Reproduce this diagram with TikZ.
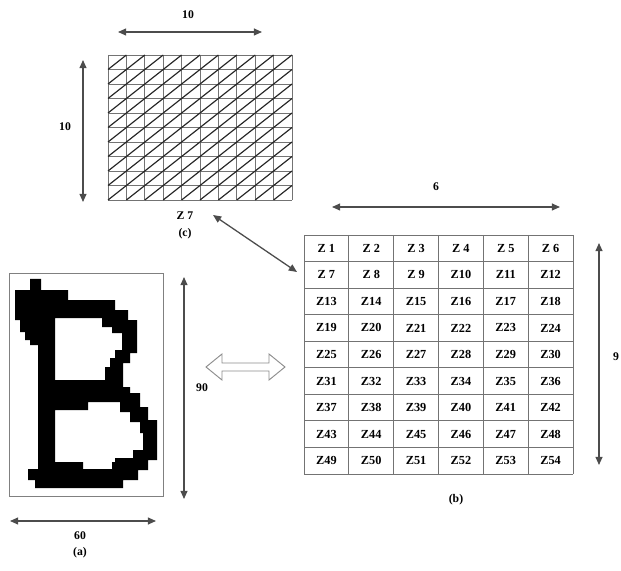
\documentclass[tikz,border=0pt]{standalone}
\usepackage{fontspec}
\setmainfont{Liberation Serif}
\usetikzlibrary{arrows.meta}

\begin{document}
\begin{tikzpicture}[x=0.03cm, y=-0.03cm,
    dim/.style={draw=black!70, line width=1.1pt,
      {Triangle[length=7pt,width=6pt]}-{Triangle[length=7pt,width=6pt]}},
    lbl/.style={font=\fontsize{10}{12}\selectfont\bfseries, inner sep=1pt},
    cell/.style={font=\fontsize{10.5}{12}\selectfont\bfseries, inner sep=0pt},
    tabline/.style={draw=black!55, line width=0.8pt}]
  \useasboundingbox (0,0) rectangle (621,571);

  % (c) zone grid
  \foreach \i in {0,...,10} {
    \draw[black!55, line width=0.6pt] ({108+18.4*\i},55) -- ({108+18.4*\i},200);
    \draw[black!55, line width=0.6pt] (108,{55+14.5*\i}) -- (292,{55+14.5*\i});
  }
  \foreach \i in {0,...,9}
    \foreach \j in {0,...,9}
      \draw[black!85, line width=1pt] ({108+18.4*\i},{69.5+14.5*\j}) -- ({126.4+18.4*\i},{55+14.5*\j});
  \coordinate (cl) at (118,32);
  \coordinate (cr) at (262,32);
  \coordinate (ct) at (83,60);
  \coordinate (cb) at (83,202);
  \draw[dim] (cl) -- (cr);
  \draw[dim] (ct) -- (cb);
  \node[lbl] (cw) at (188,15) {10};
  \node[lbl] (ch) at (65,127) {10};
  \node[lbl] (zl) at (185,216) {Z 7};
  \node[lbl] (capc) at (185,234) {(c)};

  % (b) zone table
  \foreach \c in {0,...,6}
    \draw[tabline] ({304+44.83*\c},235) -- ({304+44.83*\c},474);
  \foreach \r in {0,...,9}
    \draw[tabline] (304,{235+26.56*\r}) -- (573,{235+26.56*\r});
  \foreach \r in {1,...,9}
    \foreach \c in {1,...,6} {
      \pgfmathtruncatemacro\n{(\r-1)*6+\c}
      \node[cell] (z\n) at ({304+44.83*(\c-0.5)},{235+26.56*(\r-0.5)})
        {\ifnum\n<10 Z \n\else Z\n\fi};
    }
  \coordinate (bl) at (332,207);
  \coordinate (br) at (560,207);
  \coordinate (bt) at (599,243);
  \coordinate (bb) at (599,465);
  \draw[dim] (bl) -- (br);
  \draw[dim] (bt) -- (bb);
  \node[lbl] (bw) at (436,187) {6};
  \node[lbl] (bh) at (616,357) {9};
  \node[lbl] (capb) at (456,500) {(b)};

  % Z7 link
  \coordinate (zs) at (213,215);
  \coordinate (ze) at (297,272);
  \draw[dim] (zs) -- (ze);

  % (a) character image
  \draw[black!50, line width=0.6pt] (9,273) rectangle (163,496);
  \fill[black, even odd rule]
    (30,279) -- (41,279) -- (41,290) -- (68,290) -- (68,300) -- (115,300) -- (115,310)
    -- (128,310) -- (128,320) -- (137,320) -- (137,353) -- (130,353) -- (130,363)
    -- (123,363) -- (123,387) -- (130,387) -- (130,393) -- (140,393) -- (140,407)
    -- (148,407) -- (148,420) -- (157,420) -- (157,460) -- (148,460) -- (148,470)
    -- (138,470) -- (138,480) -- (123,480) -- (123,488) -- (35,488) -- (35,480)
    -- (28,480) -- (28,469) -- (38,469) -- (38,345) -- (30,345) -- (30,340)
    -- (25,340) -- (25,332) -- (20,332) -- (20,320) -- (15,320) -- (15,290)
    -- (30,290) -- cycle
    (55,318) -- (102,318) -- (102,327) -- (112,327) -- (112,333) -- (122,333)
    -- (122,350) -- (115,350) -- (115,358) -- (110,358) -- (110,367) -- (105,367)
    -- (105,380) -- (55,380) -- cycle
    (55,410) -- (88,410) -- (88,402) -- (120,402) -- (120,412) -- (130,412)
    -- (130,422) -- (140,422) -- (140,433) -- (143,433) -- (143,450) -- (133,450)
    -- (133,458) -- (115,458) -- (115,462) -- (112,462) -- (112,469) -- (83,469)
    -- (83,462) -- (55,462) -- cycle;
  \coordinate (al) at (10,521);
  \coordinate (ar) at (156,521);
  \coordinate (at) at (184,277);
  \coordinate (ab) at (184,499);
  \draw[dim] (al) -- (ar);
  \draw[dim] (at) -- (ab);
  \node[lbl] (aw) at (80,536) {60};
  \node[lbl] (ah) at (202,388) {90};
  \node[lbl] (capa) at (80,553) {(a)};

  % hollow double arrow between (a) and (b)
  \draw[black!45, line width=0.8pt] (206,367) -- (222,354) -- (222,363) -- (269,363)
    -- (269,354) -- (285,367) -- (269,380) -- (269,371) -- (222,371) -- (222,380) -- cycle;
\end{tikzpicture}
\end{document}
